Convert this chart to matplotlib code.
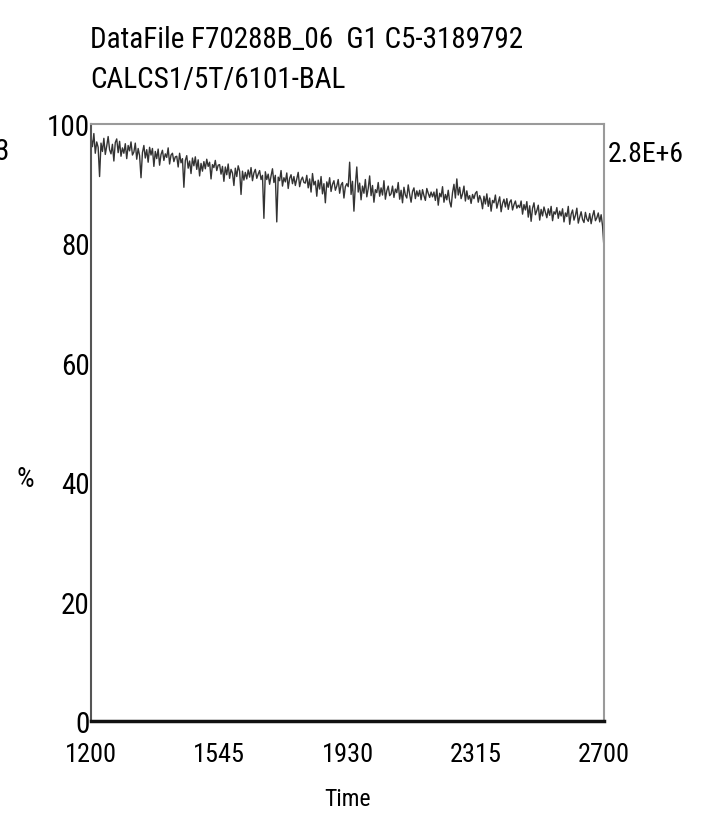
import matplotlib
matplotlib.use("Agg")
import matplotlib.pyplot as plt
from matplotlib import font_manager
import numpy as np

names = {f.name for f in font_manager.fontManager.ttflist}
FONT = "DejaVu Sans"
for cand in ["Liberation Sans Narrow", "Roboto Condensed", "Open Sans Condensed", "DejaVu Sans Condensed"]:
    if cand in names:
        FONT = cand
        break
plt.rcParams['font.family'] = [FONT, 'DejaVu Sans']

title_lines = ["DataFile F70288B_06  G1 C5-3189792", "CALCS1/5T/6101-BAL"]
x_tick_labels = ["1200", "1545", "1930", "2315", "2700"]
x_ticks = [12.0, 15.75, 19.5, 23.25, 27.0]
y_ticks = [0, 20, 40, 60, 80, 100]
y_tick_labels = ["0", "20", "40", "60", "80", "100"]
right_label = "2.8E+6"
left_cut_label = "3"
x_label = "Time"
y_label = "%"

t_start, t_end = 12.0, 27.0
percent = [
    97.8, 96.2, 98.4, 95.1, 97.0, 96.1, 91.2, 96.8, 95.4, 97.6, 94.9, 96.3, 97.9, 95.7, 95.0, 96.6, 93.8, 96.9, 97.5, 95.2, 97.1, 94.6, 96.0, 95.1, 96.7, 94.2, 96.4, 95.5, 97.0, 94.8,
    95.3, 96.8, 94.1, 95.9, 94.7, 91.0, 95.2, 96.4, 94.3, 95.7, 93.6, 96.1, 94.8, 95.9, 92.9, 95.4, 94.2, 95.8, 93.1, 94.9, 95.6, 93.9, 95.0, 94.4, 96.0, 93.3, 94.8, 95.1, 93.7, 94.5,
    94.6, 92.8, 95.1, 93.5, 94.2, 89.4, 93.9, 94.7, 92.6, 93.8, 91.7, 94.3, 93.0, 94.5, 92.4, 94.0, 91.3, 93.4, 92.1, 93.7, 92.5, 94.1, 92.9, 93.6, 90.8, 93.2, 92.7, 93.9, 92.2, 93.1,
    93.2, 91.6, 92.9, 90.4, 92.8, 91.5, 93.3, 90.9, 92.4, 91.8, 89.7, 92.6, 91.2, 93.0, 92.1, 88.2, 92.1, 90.6, 91.9, 90.8, 92.3, 91.1, 92.7, 90.5, 91.8, 92.4, 90.9, 91.6, 92.2, 90.7,
    91.4, 84.2, 92.0, 90.7, 91.6, 89.9, 91.3, 92.5, 90.2, 91.4, 83.6, 91.1, 90.5, 92.2, 89.6, 91.0, 90.3, 91.8, 89.2, 90.9, 91.5, 90.0, 91.2, 89.7, 90.8, 91.9, 89.5, 90.6, 91.1, 90.2,
    90.1, 91.4, 89.3, 90.8, 88.6, 91.7, 89.8, 90.4, 87.9, 90.6, 89.1, 91.2, 88.3, 90.0, 86.8, 90.3, 89.4, 91.0, 88.7, 89.9, 90.5, 88.9, 89.6, 90.7, 88.4, 89.8, 90.2, 87.6, 89.5, 90.0,
    89.5, 93.6, 88.2, 90.4, 85.4, 89.8, 92.8, 88.6, 90.1, 87.3, 89.6, 88.4, 90.7, 87.8, 89.2, 91.3, 88.0, 89.7, 86.9, 89.0, 88.5, 90.2, 87.9, 89.3, 88.1, 90.5, 87.4, 88.8, 89.6, 88.0,
    88.3, 89.6, 87.7, 89.1, 88.5, 90.2, 87.4, 88.9, 86.8, 89.4, 88.1, 87.6, 89.8, 88.2, 86.9, 88.7, 89.3, 87.5, 88.8, 87.9, 88.9, 87.3, 89.0, 88.0, 87.2, 89.2, 88.4, 87.7, 88.6, 87.8,
    88.6, 87.2, 89.1, 86.4, 88.4, 87.8, 89.5, 86.9, 88.2, 87.3, 88.9, 87.0, 86.1, 88.5, 89.9, 87.6, 90.8, 88.1, 89.4, 87.5, 88.3, 89.6, 87.1, 88.8, 87.4, 88.0, 86.7, 88.2, 87.5, 88.4,
    88.7, 86.9, 88.0, 87.3, 85.8, 87.9, 86.6, 88.3, 86.2, 87.6, 85.4, 87.2, 86.8, 88.1, 85.9, 86.9, 87.8, 85.3, 86.7, 87.4, 86.1, 87.5, 85.7, 86.9, 87.3, 85.6, 86.5, 87.1, 85.9, 86.4,
    86.0, 87.1, 84.9, 86.5, 85.6, 87.0, 84.4, 86.3, 83.7, 85.9, 86.8, 84.8, 85.5, 86.4, 83.9, 85.7, 84.6, 86.1, 85.2, 84.3, 85.8, 84.7, 86.2, 83.8, 85.3, 84.9, 86.0, 84.2, 85.4, 84.6,
    85.8, 83.6, 85.1, 84.5, 86.2, 83.2, 84.9, 85.6, 83.9, 84.7, 85.9, 83.4, 84.4, 85.3, 84.0, 83.5, 85.2, 84.1, 83.7, 85.0, 83.3, 84.6, 85.5, 83.8, 84.3, 85.1, 83.6, 84.8, 82.9, 79.2,
]
time = np.linspace(t_start, t_end, len(percent))

W, H = 702, 820
fig = plt.figure(figsize=(W / 100, H / 100), dpi=100)
L, R, T, B = 91, 604, 125, 722
ax = fig.add_axes([L / W, 1 - B / H, (R - L) / W, (B - T) / H])

ax.plot(time, percent, color="#333333", lw=1.0)
ax.set_xlim(t_start, t_end)
ax.set_ylim(0, 100)

for s in ["top", "right"]:
    ax.spines[s].set_color("#9a9a9a")
    ax.spines[s].set_linewidth(1.5)
ax.spines["left"].set_color("#555555")
ax.spines["left"].set_linewidth(1.5)
ax.spines["bottom"].set_color("#111111")
ax.spines["bottom"].set_linewidth(2.5)

ax.set_xticks(x_ticks)
ax.set_xticklabels(x_tick_labels, fontsize=19)
ax.set_yticks(y_ticks)
ax.set_yticklabels(y_tick_labels, fontsize=21)
ax.tick_params(axis="x", length=0, pad=15)
ax.tick_params(axis="y", length=0, pad=1)

ax.set_xlabel(x_label, fontsize=17, va="center")
ax.xaxis.set_label_coords(0.5, -(800 - B) / (B - T))
ax.set_ylabel(y_label, fontsize=20, rotation=0, va="center", ha="center")
ax.yaxis.set_label_coords(-(L - 25) / (R - L), (B - 480) / (B - T))

fig.text(90 / W, 1 - 40 / H, title_lines[0], fontsize=21, ha="left", va="center")
fig.text(90 / W, 1 - 80 / H, title_lines[1], fontsize=21, ha="left", va="center")
fig.text(608 / W, 1 - 155 / H, right_label, fontsize=20, ha="left", va="center")
fig.text(-5 / W, 1 - 152 / H, left_cut_label, fontsize=21, ha="left", va="center")

fig.savefig("out.png", dpi=100)
